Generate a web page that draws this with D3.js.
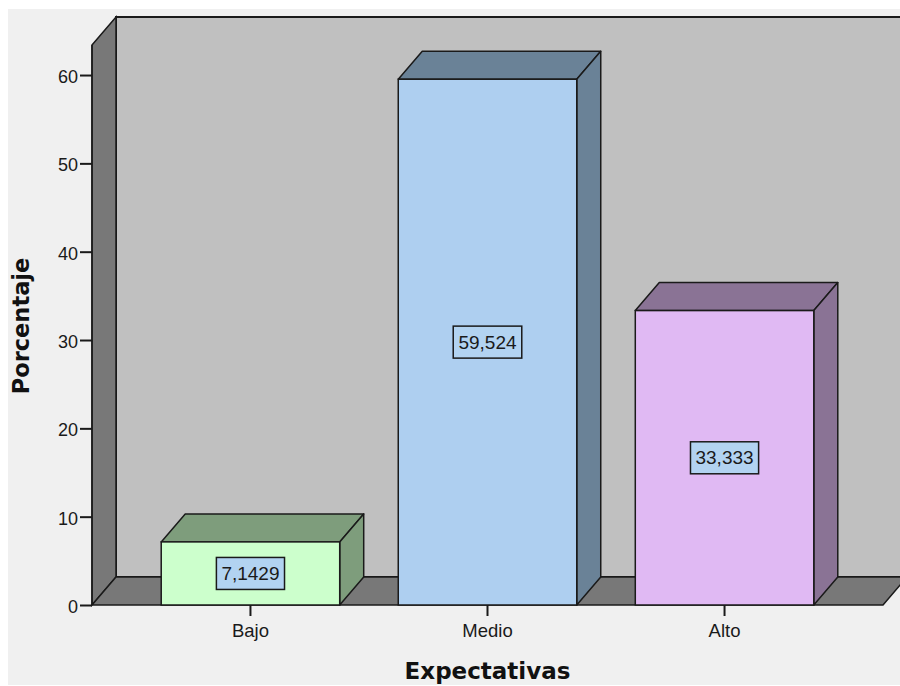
<!DOCTYPE html>
<html>
<head>
<meta charset="utf-8">
<script src="https://cdn.jsdelivr.net/npm/d3@7/dist/d3.min.js"></script>
<style>
  html, body { margin: 0; padding: 0; background: #ffffff; }
  svg { display: block; }
</style>
</head>
<body>
<svg id="chart" width="900" height="686"></svg>
<script>
// Data
const categories = ["Bajo", "Medio", "Alto"];
const values = [7.1429, 59.524, 33.333];
const yTicks = [0, 10, 20, 30, 40, 50, 60];
const frontColors = ["#ccffcc", "#aecff0", "#e0b9f3"];
const shadeColors = ["#7e9d7c", "#6a8297", "#8a7395"];

const xTitle = "Expectativas";
const yTitle = "Porcentaje";

// Spanish number format (comma decimal)
const locale = d3.formatLocale({ decimal: ",", thousands: ".", grouping: [3], currency: ["", " €"] });
const fmt = locale.format(".5");

const svg = d3.select("#chart");

// Layout
const depthX = 24, depthY = 28;
const plotLeft = 92, plotRight = 883, plotBase = 605, plotTop = 45;
const yMax = 63.4;

const y = d3.scaleLinear().domain([0, yMax]).range([plotBase, plotTop]);
const x = d3.scaleBand().domain(categories).range([plotLeft, plotRight])
  .paddingInner(0.247).paddingOuter(0.292);

// Panel background
svg.append("rect").attr("x", 8).attr("y", 9).attr("width", 892).attr("height", 676)
  .attr("fill", "#f0f0f0");

const stroke = "#1a1a1a";

// Back wall
svg.append("polygon")
  .attr("points", [[plotLeft + depthX, y(yMax) - depthY], [920, y(yMax) - depthY], [920, plotBase - depthY], [plotLeft + depthX, plotBase - depthY]].join(" "))
  .attr("fill", "#c0c0c0").attr("stroke", stroke).attr("stroke-width", 2);

// Left side wall
svg.append("polygon")
  .attr("points", [[plotLeft, plotTop], [plotLeft + depthX, plotTop - depthY], [plotLeft + depthX, plotBase - depthY], [plotLeft, plotBase]].join(" "))
  .attr("fill", "#787878").attr("stroke", stroke).attr("stroke-width", 1.5);

// Floor
svg.append("polygon")
  .attr("points", [[plotLeft, plotBase], [plotLeft + depthX, plotBase - depthY], [plotRight + depthX, plotBase - depthY], [plotRight, plotBase]].join(" "))
  .attr("fill", "#787878").attr("stroke", stroke).attr("stroke-width", 1.5).attr("stroke-linejoin", "round");

// Bars
const bw = x.bandwidth();
categories.forEach((c, i) => {
  const x0 = x(c), x1 = x0 + bw, yt = y(values[i]);
  const g = svg.append("g");
  g.append("polygon")
    .attr("points", [[x0, yt], [x0 + depthX, yt - depthY], [x1 + depthX, yt - depthY], [x1, yt]].join(" "))
    .attr("fill", shadeColors[i]).attr("stroke", stroke).attr("stroke-width", 1.5).attr("stroke-linejoin", "round");
  g.append("polygon")
    .attr("points", [[x1, yt], [x1 + depthX, yt - depthY], [x1 + depthX, plotBase - depthY], [x1, plotBase]].join(" "))
    .attr("fill", shadeColors[i]).attr("stroke", stroke).attr("stroke-width", 1.5).attr("stroke-linejoin", "round");
  g.append("rect")
    .attr("x", x0).attr("y", yt).attr("width", bw).attr("height", plotBase - yt)
    .attr("fill", frontColors[i]).attr("stroke", stroke).attr("stroke-width", 1.5);
});

// Value labels
categories.forEach((c, i) => {
  const cx = x(c) + bw / 2;
  const cy = (y(values[i]) + plotBase) / 2;
  const g = svg.append("g");
  const t = g.append("text")
    .attr("x", cx).attr("y", cy)
    .attr("text-anchor", "middle").attr("dominant-baseline", "central")
    .attr("font-family", "'Liberation Sans', Arial, sans-serif").attr("font-size", 19)
    .attr("fill", "#1a1a1a")
    .text(fmt(values[i]));
  const bb = t.node().getBBox();
  g.insert("rect", "text")
    .attr("x", cx - bb.width / 2 - 5).attr("y", cy - 16)
    .attr("width", bb.width + 10).attr("height", 32)
    .attr("fill", "#b2d3f1").attr("stroke", stroke).attr("stroke-width", 1.5);
});

// Y axis
const yAxis = d3.axisLeft(y).tickValues(yTicks).tickSize(12).tickPadding(2).tickSizeOuter(0);
const gy = svg.append("g").attr("transform", `translate(${plotLeft},0)`).call(yAxis);
gy.select(".domain").remove();
gy.selectAll(".tick line").attr("stroke", stroke).attr("stroke-width", 2);
gy.selectAll(".tick text")
  .attr("dy", "0.42em")
  .attr("font-family", "'Liberation Sans', Arial, sans-serif").attr("font-size", 18).attr("fill", "#1a1a1a");
svg.append("line").attr("x1", plotLeft).attr("x2", plotLeft).attr("y1", plotTop).attr("y2", plotBase)
  .attr("stroke", stroke).attr("stroke-width", 1.5);

// X axis
const xAxis = d3.axisBottom(x).tickSize(11).tickPadding(8).tickSizeOuter(0);
const gx = svg.append("g").attr("transform", `translate(0,${plotBase})`).call(xAxis);
gx.select(".domain").remove();
gx.selectAll(".tick line").attr("stroke", stroke).attr("stroke-width", 2);
gx.selectAll(".tick text")
  .attr("font-family", "'Liberation Sans', Arial, sans-serif").attr("font-size", 18.5).attr("fill", "#1a1a1a");

// Axis titles
svg.append("text")
  .attr("x", (plotLeft + plotRight) / 2).attr("y", 679)
  .attr("text-anchor", "middle")
  .attr("font-family", "'DejaVu Sans', Verdana, sans-serif").attr("font-weight", "bold").attr("font-size", 23)
  .attr("fill", "#111")
  .text(xTitle);

svg.append("text")
  .attr("transform", `translate(29,${(plotTop + plotBase) / 2 + 1}) rotate(-90)`)
  .attr("text-anchor", "middle")
  .attr("font-family", "'DejaVu Sans', Verdana, sans-serif").attr("font-weight", "bold").attr("font-size", 22.5)
  .attr("fill", "#111")
  .text(yTitle);
</script>
</body>
</html>
